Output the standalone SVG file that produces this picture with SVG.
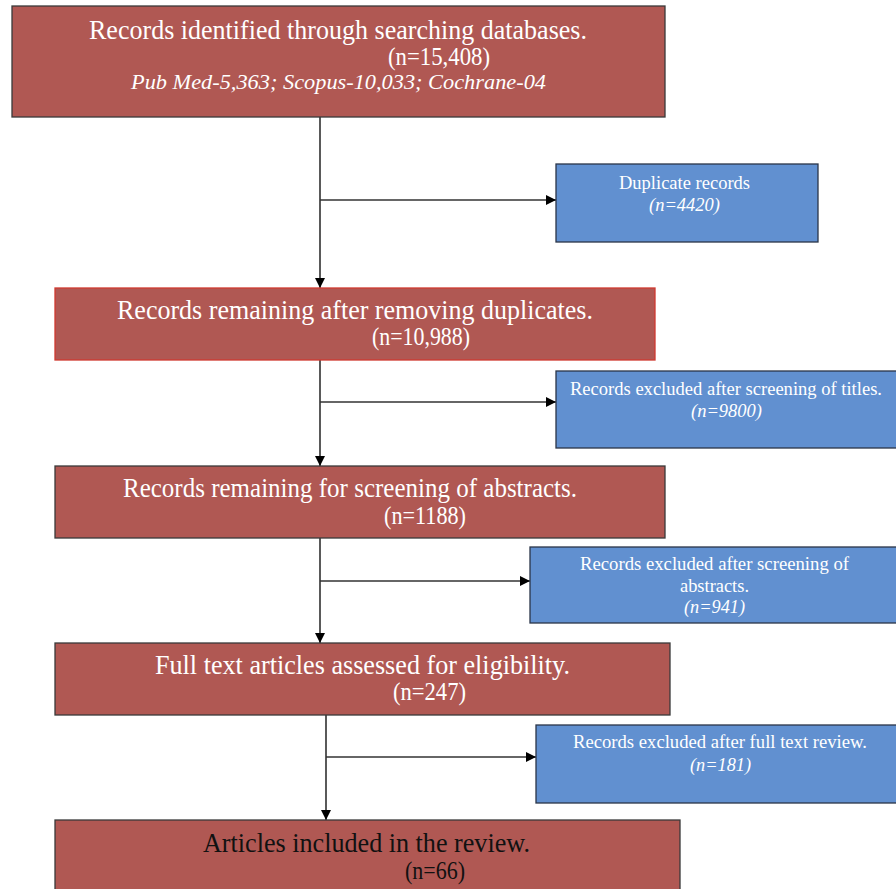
<svg xmlns="http://www.w3.org/2000/svg" width="896" height="889" viewBox="0 0 896 889">
<defs>
<marker id="arr" viewBox="0 0 10 10" refX="10" refY="5" markerWidth="10" markerHeight="10" markerUnits="userSpaceOnUse" orient="auto">
<path d="M0,0 L10,5 L0,10 z" fill="#000"/>
</marker>
<style>
.red{fill:#b05853;stroke:#3a3a3a;stroke-width:1.3}
.blue{fill:#6190d0;stroke:#2a3548;stroke-width:1.3}
.t{font-family:"Liberation Serif","Times New Roman",serif;fill:#fff}
.big{font-size:27px}
.num{font-size:25px}
.sm{font-size:18px}
.it{font-style:italic}
.c{text-anchor:middle}
.dk{fill:#111}
.ln{stroke:#000;stroke-width:1.3;fill:none}
.hl{stroke:#333;stroke-width:1.3;fill:none}
</style>
</defs>
<rect width="896" height="889" fill="#fff"/>
<g id="connectors">
<line class="ln" x1="320" y1="117" x2="320" y2="288" marker-end="url(#arr)"/>
<line class="hl" x1="320" y1="200" x2="556" y2="200" marker-end="url(#arr)"/>
<line class="ln" x1="320" y1="360" x2="320" y2="466" marker-end="url(#arr)"/>
<line class="hl" x1="320" y1="402" x2="556" y2="402" marker-end="url(#arr)"/>
<line class="ln" x1="320" y1="538" x2="320" y2="643" marker-end="url(#arr)"/>
<line class="hl" x1="320" y1="581" x2="530" y2="581" marker-end="url(#arr)"/>
<line class="ln" x1="326" y1="715" x2="326" y2="820" marker-end="url(#arr)"/>
<line class="hl" x1="326" y1="757" x2="536" y2="757" marker-end="url(#arr)"/>
</g>
<g id="n1">
<rect class="red" x="12" y="6" width="653" height="111"/>
<text class="t big c" x="338" y="39" textLength="498" lengthAdjust="spacingAndGlyphs">Records identified through searching databases.</text>
<text class="t num" x="388" y="65" textLength="102" lengthAdjust="spacingAndGlyphs">(n=15,408)</text>
<text class="t it c" x="338.5" y="89" font-size="22" textLength="415" lengthAdjust="spacingAndGlyphs">Pub Med-5,363; Scopus-10,033; Cochrane-04</text>
</g>
<g id="n2">
<rect class="blue" x="556" y="164" width="262" height="78"/>
<text class="t sm c" x="684.5" y="189" textLength="131" lengthAdjust="spacingAndGlyphs">Duplicate records</text>
<text class="t sm it c" x="684.5" y="211" textLength="71" lengthAdjust="spacingAndGlyphs">(n=4420)</text>
</g>
<g id="n3">
<rect x="55" y="288" width="600" height="72" fill="#b05853" stroke="#d03a30" stroke-width="1.3"/>
<text class="t big c" x="355" y="319" textLength="476" lengthAdjust="spacingAndGlyphs">Records remaining after removing duplicates.</text>
<text class="t num" x="372" y="345" textLength="98" lengthAdjust="spacingAndGlyphs">(n=10,988)</text>
</g>
<g id="n4">
<rect class="blue" x="556" y="371" width="345" height="77"/>
<text class="t sm c" x="726" y="395" textLength="312" lengthAdjust="spacingAndGlyphs">Records excluded after screening of titles.</text>
<text class="t sm it c" x="726.5" y="417" textLength="71" lengthAdjust="spacingAndGlyphs">(n=9800)</text>
</g>
<g id="n5">
<rect class="red" x="55" y="466" width="610" height="72"/>
<text class="t big c" x="350" y="497" textLength="454" lengthAdjust="spacingAndGlyphs">Records remaining for screening of abstracts.</text>
<text class="t num" x="384" y="524" textLength="82" lengthAdjust="spacingAndGlyphs">(n=1188)</text>
</g>
<g id="n6">
<rect class="blue" x="530" y="547" width="370" height="76"/>
<text class="t sm c" x="714.5" y="570" textLength="269" lengthAdjust="spacingAndGlyphs">Records excluded after screening of</text>
<text class="t sm c" x="714.5" y="592" textLength="69" lengthAdjust="spacingAndGlyphs">abstracts.</text>
<text class="t sm it c" x="714.5" y="613" textLength="61" lengthAdjust="spacingAndGlyphs">(n=941)</text>
</g>
<g id="n7">
<rect class="red" x="55" y="643" width="615" height="72"/>
<text class="t big c" x="362.5" y="674" textLength="415" lengthAdjust="spacingAndGlyphs">Full text articles assessed for eligibility.</text>
<text class="t num" x="393" y="700" textLength="73" lengthAdjust="spacingAndGlyphs">(n=247)</text>
</g>
<g id="n8">
<rect class="blue" x="536" y="725" width="364" height="78"/>
<text class="t sm c" x="720" y="748" textLength="294" lengthAdjust="spacingAndGlyphs">Records excluded after full text review.</text>
<text class="t sm it c" x="720.5" y="771" textLength="61" lengthAdjust="spacingAndGlyphs">(n=181)</text>
</g>
<g id="n9">
<rect class="red" x="55" y="820" width="625" height="80"/>
<text class="t big c dk" x="366.5" y="852" textLength="327" lengthAdjust="spacingAndGlyphs">Articles included in the review.</text>
<text class="t num dk" x="405" y="879" textLength="60" lengthAdjust="spacingAndGlyphs">(n=66)</text>
</g>
</svg>
